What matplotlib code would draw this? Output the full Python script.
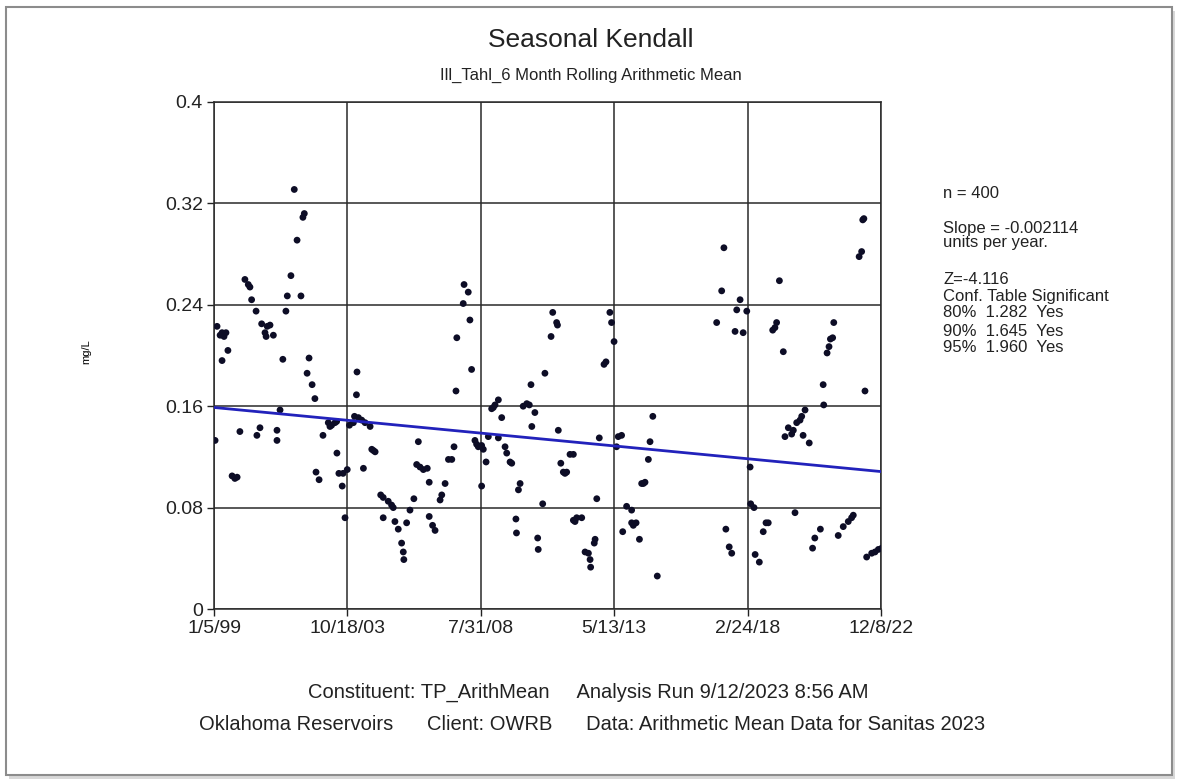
import numpy as np
import pandas as pd
import matplotlib
matplotlib.use('Agg')
import matplotlib.pyplot as plt
from matplotlib.patches import Rectangle

plt.rcParams['font.family'] = ['Liberation Sans', 'DejaVu Sans']

# Sample dates as decimal years, values in mg/L
years = [
    1999.05, 1999.12, 1999.23, 1999.30, 1999.37, 1999.44, 1999.51, 1999.30, 1999.66, 1999.76,
    1999.84, 1999.94, 2000.12, 2000.24, 2000.30, 2000.36, 2000.52, 2000.55, 2000.66, 2000.72,
    2000.92, 2000.84, 2001.02, 2001.14, 2000.88, 2001.27, 2001.27, 2001.48, 2001.38, 2001.59,
    2001.64, 2001.77, 2001.99, 2001.89, 2002.13, 2002.20, 2002.25, 2002.42, 2002.35, 2002.53,
    2002.63, 2002.67, 2002.78, 2002.92, 2003.11, 2003.23, 2003.35, 2003.17, 2003.41, 2003.42,
    2003.49, 2003.64, 2003.61, 2003.71, 2003.79, 2003.87, 2004.14, 2004.12, 2004.05, 2004.19,
    2004.31, 2004.43, 2004.61, 2004.01, 2004.37, 2004.67, 2004.73, 2004.79, 2004.99, 2005.08,
    2005.26, 2005.38, 2005.44, 2005.08, 2005.50, 2005.62, 2005.92, 2005.74, 2005.80, 2005.82,
    2006.04, 2006.18, 2006.34, 2006.28, 2006.40, 2006.52, 2006.66, 2006.73, 2006.73, 2006.85,
    2006.94, 2007.12, 2007.18, 2007.30, 2007.42, 2007.54, 2007.62, 2007.69, 2007.72, 2007.98,
    2008.13, 2007.95, 2008.19, 2008.25, 2008.37, 2008.43, 2008.49, 2008.67, 2008.61, 2008.77,
    2008.61, 2008.97, 2009.03, 2009.09, 2008.85, 2009.21, 2009.33, 2009.21, 2009.45, 2009.51,
    2009.63, 2009.69, 2009.99, 2009.93, 2009.84, 2009.86, 2010.10, 2010.23, 2010.32, 2010.52,
    2010.41, 2010.38, 2010.80, 2010.62, 2010.64, 2010.88, 2011.10, 2011.16, 2011.30, 2011.33,
    2011.36, 2011.45, 2011.54, 2011.66, 2011.60, 2011.78, 2011.90, 2011.90, 2012.02, 2012.20,
    2011.96, 2012.32, 2012.44, 2012.50, 2012.52, 2012.68, 2012.65, 2012.74, 2012.83, 2013.00,
    2013.07, 2013.21, 2013.27, 2013.36, 2013.45, 2013.51, 2013.63, 2013.67, 2013.81, 2013.99,
    2013.99, 2014.15, 2014.05, 2014.27, 2014.35, 2014.47, 2014.41, 2014.59, 2014.65, 2014.75,
    2014.91, 2017.04, 2017.22, 2017.30, 2017.37, 2017.49, 2017.58, 2017.70, 2017.99, 2017.76,
    2017.88, 2018.12, 2018.24, 2018.26, 2018.38, 2018.42, 2018.57, 2018.71, 2018.81, 2018.89,
    2019.05, 2019.19, 2019.13, 2019.29, 2019.43, 2019.49, 2019.61, 2019.73, 2019.79, 2019.91,
    2020.03, 2020.09, 2020.21, 2019.85, 2020.14, 2020.36, 2020.48, 2020.56, 2020.76, 2020.86,
    2020.88, 2021.00, 2021.07, 2021.12, 2021.20, 2021.24, 2021.40, 2021.58, 2021.76, 2021.88,
    2021.94, 2022.15, 2022.24, 2022.28, 2022.32, 2022.36, 2022.42, 2022.60, 2022.72, 2022.84,
    2022.96,
]
values = [
    0.133, 0.223, 0.216, 0.218, 0.215, 0.218, 0.204, 0.196, 0.105, 0.103,
    0.104, 0.140, 0.260, 0.256, 0.254, 0.244, 0.235, 0.137, 0.143, 0.225,
    0.223, 0.218, 0.224, 0.216, 0.215, 0.141, 0.133, 0.197, 0.157, 0.235,
    0.247, 0.263, 0.291, 0.331, 0.247, 0.309, 0.312, 0.198, 0.186, 0.177,
    0.166, 0.108, 0.102, 0.137, 0.147, 0.145, 0.147, 0.144, 0.148, 0.123,
    0.107, 0.107, 0.097, 0.072, 0.110, 0.145, 0.187, 0.169, 0.152, 0.151,
    0.149, 0.147, 0.144, 0.147, 0.111, 0.126, 0.125, 0.124, 0.090, 0.088,
    0.085, 0.082, 0.080, 0.072, 0.069, 0.063, 0.068, 0.052, 0.045, 0.039,
    0.078, 0.087, 0.132, 0.114, 0.112, 0.110, 0.111, 0.100, 0.073, 0.066,
    0.062, 0.086, 0.090, 0.099, 0.118, 0.118, 0.128, 0.172, 0.214, 0.256,
    0.250, 0.241, 0.228, 0.189, 0.133, 0.130, 0.128, 0.126, 0.129, 0.116,
    0.097, 0.158, 0.159, 0.161, 0.136, 0.165, 0.151, 0.135, 0.128, 0.123,
    0.116, 0.115, 0.099, 0.094, 0.071, 0.060, 0.160, 0.162, 0.161, 0.155,
    0.144, 0.177, 0.083, 0.056, 0.047, 0.186, 0.215, 0.234, 0.226, 0.224,
    0.141, 0.115, 0.108, 0.108, 0.107, 0.122, 0.122, 0.070, 0.072, 0.072,
    0.069, 0.045, 0.044, 0.039, 0.033, 0.055, 0.052, 0.087, 0.135, 0.193,
    0.195, 0.234, 0.226, 0.211, 0.128, 0.136, 0.137, 0.061, 0.081, 0.078,
    0.068, 0.068, 0.066, 0.055, 0.099, 0.100, 0.099, 0.118, 0.132, 0.152,
    0.026, 0.226, 0.251, 0.285, 0.063, 0.049, 0.044, 0.219, 0.218, 0.236,
    0.244, 0.235, 0.112, 0.083, 0.080, 0.043, 0.037, 0.061, 0.068, 0.068,
    0.220, 0.226, 0.222, 0.259, 0.203, 0.136, 0.143, 0.138, 0.141, 0.147,
    0.149, 0.152, 0.157, 0.076, 0.137, 0.131, 0.048, 0.056, 0.063, 0.177,
    0.161, 0.202, 0.207, 0.213, 0.214, 0.226, 0.058, 0.065, 0.069, 0.072,
    0.074, 0.278, 0.282, 0.307, 0.308, 0.172, 0.041, 0.044, 0.045, 0.047,
    0.048,
]

# Sen slope trend line
trend_start = 0.159
slope = -0.002114  # units per year

tick_dates = ['1999-01-05', '2003-10-18', '2008-07-31', '2013-05-13', '2018-02-24', '2022-12-08']
tick_labels = ['1/5/99', '10/18/03', '7/31/08', '5/13/13', '2/24/18', '12/8/22']
y_ticks = [0, 0.08, 0.16, 0.24, 0.32, 0.4]
y_labels = ['0', '0.08', '0.16', '0.24', '0.32', '0.4']


def dec_year(s):
    d = pd.Timestamp(s)
    a = pd.Timestamp(year=d.year, month=1, day=1)
    b = pd.Timestamp(year=d.year + 1, month=1, day=1)
    return d.year + (d - a) / (b - a)


x_ticks = [dec_year(s) for s in tick_dates]
x0, x1 = x_ticks[0], x_ticks[-1]

W, H = 1177, 782
fig = plt.figure(figsize=(W / 100, H / 100), dpi=100)

# outer frame with shadow
fig.patches.append(Rectangle((9 / W, 1 - 779 / H), 1166 / W, 768 / H, transform=fig.transFigure,
                             facecolor='#d8d8d8', edgecolor='none', zorder=0))
fig.patches.append(Rectangle((6 / W, 1 - 775 / H), 1166 / W, 768 / H, transform=fig.transFigure,
                             facecolor='white', edgecolor='#8c8c8c', lw=1.5, zorder=1))

ax = fig.add_axes([214 / W, 1 - 609 / H, (881 - 214) / W, (609 - 102) / H])
ax.set_zorder(2)

ax.scatter(years, values, s=24, color='#0d0d26', edgecolors='none', zorder=3)

tx = np.array([x0, x1])
ax.plot(tx, trend_start + slope * (tx - x0), color='#2222bb', lw=2, zorder=4)

ax.set_xlim(x0, x1)
ax.set_ylim(0, 0.4)
ax.set_xticks(x_ticks)
ax.set_xticklabels(tick_labels)
ax.set_yticks(y_ticks)
ax.set_yticklabels(y_labels)
ax.grid(True, color='#2a2a2a', lw=1.1)
ax.set_axisbelow(True)
for sp in ax.spines.values():
    sp.set_color('#2a2a2a')
    sp.set_linewidth(1.1)
ax.tick_params(direction='out', length=5, width=1, labelsize=14, colors='#222222', pad=3)

fig.text(86 / W, 1 - 352 / H, 'mg/L', rotation=90, fontsize=8, ha='center', va='center')

# titles
fig.text(591 / W, 1 - 40 / H, 'Seasonal Kendall', fontsize=19, ha='center', va='center', color='#222222')
fig.text(591 / W, 1 - 75 / H, 'Ill_Tahl_6 Month Rolling Arithmetic Mean', fontsize=12,
         ha='center', va='center', color='#222222')

# statistics on the right
stats = [
    (194, 'n = 400'),
    (229, 'Slope = -0.002114'),
    (242, 'units per year.'),
    (279, 'Z=-4.116'),
    (296, 'Conf. Table Significant'),
    (313, '80%  1.282  Yes'),
    (331, '90%  1.645  Yes'),
    (348, '95%  1.960  Yes'),
]
for yy, txt in stats:
    fig.text(943 / W, 1 - yy / H, txt, fontsize=12, ha='left', va='center', color='#222222')

# footer
fig.text(588 / W, 1 - 692 / H, 'Constituent: TP_ArithMean     Analysis Run 9/12/2023 8:56 AM',
         fontsize=14.5, ha='center', va='center', color='#222222')
fig.text(592 / W, 1 - 724 / H,
         'Oklahoma Reservoirs      Client: OWRB      Data: Arithmetic Mean Data for Sanitas 2023',
         fontsize=14.5, ha='center', va='center', color='#222222')

fig.savefig('out.png', dpi=100)
